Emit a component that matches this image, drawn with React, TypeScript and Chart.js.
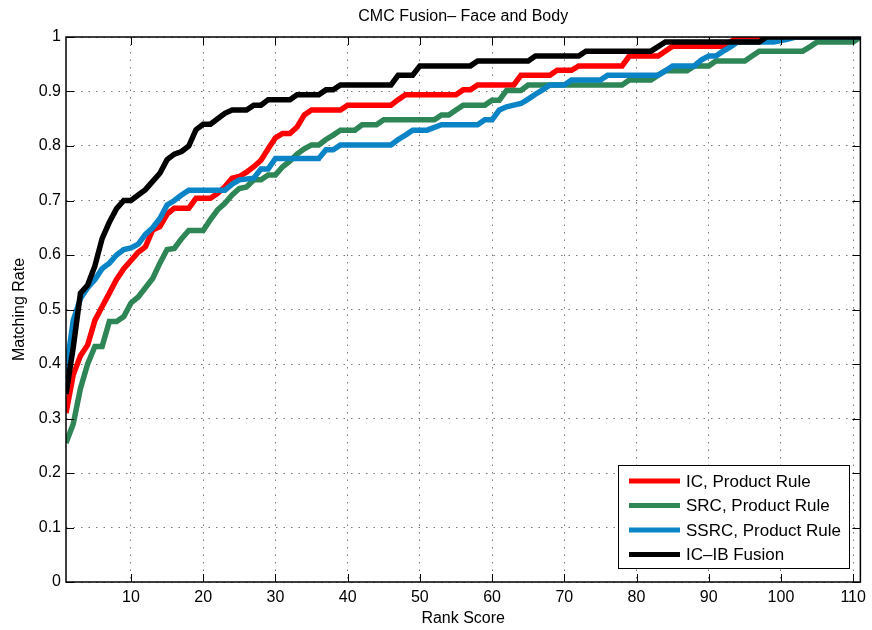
import { useEffect, useRef } from 'react';
import { Chart, registerables } from 'chart.js';

Chart.register(...registerables);

// Axis ticks
const rankTicks = [10, 20, 30, 40, 50, 60, 70, 80, 90, 100, 110];
const rateTicks = [0, 0.1, 0.2, 0.3, 0.4, 0.5, 0.6, 0.7, 0.8, 0.9, 1];

// IC, Product Rule
const icRanks = [1, 2, 3, 4, 5, 6, 7, 8, 9, 10, 11, 12, 13, 14, 15, 16, 18, 19, 21, 22, 23, 24, 25, 26, 27, 28, 29, 30, 31, 32, 33, 34, 35, 39, 40, 46, 47, 48, 55, 56, 57, 58, 63, 64, 68, 69, 71, 72, 78, 79, 83, 85, 92, 93, 94, 111];
const icRates = [0.31, 0.38, 0.415, 0.435, 0.48, 0.505, 0.53, 0.555, 0.575, 0.59, 0.605, 0.615, 0.646, 0.652, 0.675, 0.686, 0.686, 0.704, 0.704, 0.713, 0.725, 0.741, 0.744, 0.752, 0.762, 0.774, 0.795, 0.815, 0.823, 0.823, 0.835, 0.857, 0.866, 0.866, 0.875, 0.875, 0.885, 0.894, 0.894, 0.903, 0.903, 0.912, 0.912, 0.93, 0.93, 0.939, 0.939, 0.947, 0.947, 0.965, 0.965, 0.983, 0.983, 0.991, 1, 1];

// SRC, Product Rule
const srcRanks = [1, 2, 3, 4, 5, 6, 7, 8, 9, 10, 11, 12, 13, 14, 15, 16, 17, 18, 20, 21, 22, 23, 24, 25, 26, 27, 28, 29, 30, 31, 32, 33, 34, 35, 36, 37, 38, 39, 41, 42, 44, 45, 52, 53, 54, 55, 56, 59, 60, 61, 62, 64, 65, 78, 79, 82, 83, 84, 87, 88, 90, 91, 95, 96, 97, 103, 104, 105, 110, 111];
const srcRates = [0.255, 0.29, 0.355, 0.4, 0.432, 0.432, 0.478, 0.478, 0.487, 0.512, 0.523, 0.54, 0.557, 0.585, 0.61, 0.612, 0.63, 0.645, 0.645, 0.665, 0.683, 0.695, 0.71, 0.722, 0.725, 0.738, 0.738, 0.747, 0.747, 0.762, 0.772, 0.785, 0.795, 0.802, 0.802, 0.812, 0.82, 0.829, 0.829, 0.839, 0.839, 0.848, 0.848, 0.857, 0.857, 0.866, 0.875, 0.875, 0.884, 0.884, 0.902, 0.902, 0.912, 0.912, 0.921, 0.921, 0.93, 0.938, 0.938, 0.947, 0.947, 0.956, 0.956, 0.965, 0.974, 0.974, 0.982, 0.991, 0.991, 1];

// SSRC, Product Rule
const ssrcRanks = [1, 2, 3, 4, 5, 6, 7, 8, 9, 10, 11, 12, 13, 14, 15, 16, 17, 18, 23, 24, 25, 27, 28, 29, 30, 36, 37, 38, 39, 46, 47, 48, 49, 51, 53, 58, 59, 60, 61, 62, 63, 64, 65, 66, 67, 68, 70, 71, 75, 76, 83, 84, 85, 88, 89, 90, 91, 92, 93, 94, 99, 101, 102, 111];
const ssrcRates = [0.385, 0.48, 0.52, 0.54, 0.555, 0.575, 0.585, 0.6, 0.61, 0.613, 0.62, 0.638, 0.65, 0.667, 0.692, 0.7, 0.71, 0.719, 0.719, 0.73, 0.738, 0.741, 0.758, 0.758, 0.777, 0.777, 0.793, 0.793, 0.802, 0.802, 0.812, 0.82, 0.829, 0.829, 0.839, 0.839, 0.848, 0.848, 0.866, 0.872, 0.875, 0.878, 0.886, 0.895, 0.903, 0.912, 0.912, 0.921, 0.921, 0.93, 0.93, 0.938, 0.947, 0.947, 0.958, 0.965, 0.965, 0.974, 0.982, 0.991, 0.991, 0.996, 1, 1];

// IC-IB Fusion
const fusionRanks = [1, 2, 3, 4, 5, 6, 7, 8, 9, 10, 11, 12, 13, 14, 15, 16, 17, 18, 19, 20, 21, 22, 23, 24, 26, 27, 28, 29, 32, 33, 36, 37, 38, 39, 46, 47, 49, 50, 57, 58, 65, 66, 72, 73, 82, 84, 97, 98, 111];
const fusionRates = [0.345, 0.43, 0.53, 0.545, 0.58, 0.63, 0.66, 0.685, 0.7, 0.7, 0.71, 0.72, 0.735, 0.75, 0.775, 0.785, 0.79, 0.8, 0.83, 0.84, 0.84, 0.85, 0.86, 0.866, 0.866, 0.875, 0.875, 0.885, 0.885, 0.894, 0.894, 0.903, 0.903, 0.912, 0.912, 0.93, 0.93, 0.947, 0.947, 0.956, 0.956, 0.965, 0.965, 0.974, 0.974, 0.991, 0.991, 1, 1];

const seriesNames = ['IC, Product Rule', 'SRC, Product Rule', 'SSRC, Product Rule', 'IC\u2013IB Fusion'];
const seriesColors = ['#ff0000', '#2e8555', '#0a84c6', '#000000'];

const FONT = '"Liberation Sans", Arial, Helvetica, sans-serif';

const toPoints = (xs: number[], ys: number[]) => xs.map((x, i) => ({ x, y: ys[i] }));

// Draws the boxed frame with inward ticks, the title and the legend panel
const framePlugin = {
  id: 'frameAndLegend',
  afterDraw(chart: any) {
    const { ctx, chartArea } = chart;
    const { left, right, top, bottom } = chartArea;
    const xs = chart.scales.x;
    const ys = chart.scales.y;
    const tickLen = 8;
    ctx.save();
    ctx.strokeStyle = '#000';
    ctx.lineWidth = 1;
    ctx.beginPath();
    for (const t of rankTicks) {
      const px = Math.round(xs.getPixelForValue(t)) + 0.5;
      ctx.moveTo(px, bottom);
      ctx.lineTo(px, bottom - tickLen);
      ctx.moveTo(px, top);
      ctx.lineTo(px, top + tickLen);
    }
    for (const t of rateTicks) {
      const py = Math.round(ys.getPixelForValue(t)) + 0.5;
      ctx.moveTo(left, py);
      ctx.lineTo(left + tickLen, py);
      ctx.moveTo(right, py);
      ctx.lineTo(right - tickLen, py);
    }
    ctx.stroke();
    ctx.lineWidth = 1.5;
    ctx.strokeRect(left, top, right - left, bottom - top);

    // title
    ctx.fillStyle = '#000';
    ctx.font = `16px ${FONT}`;
    ctx.textAlign = 'center';
    ctx.textBaseline = 'middle';
    ctx.fillText('CMC Fusion\u2013 Face and Body', (left + right) / 2, 17);

    // legend
    const lx = 618, ly = 465, lw = 231, lh = 103;
    ctx.fillStyle = '#fff';
    ctx.fillRect(lx, ly, lw, lh);
    ctx.lineWidth = 1;
    ctx.strokeStyle = '#000';
    ctx.strokeRect(lx + 0.5, ly + 0.5, lw, lh);
    ctx.font = `17px ${FONT}`;
    ctx.textAlign = 'left';
    chart.data.datasets.forEach((ds: any, i: number) => {
      const rowY = ly + 16 + i * 24.5;
      ctx.strokeStyle = ds.borderColor;
      ctx.lineWidth = 5;
      ctx.beginPath();
      ctx.moveTo(lx + 11, rowY);
      ctx.lineTo(lx + 62, rowY);
      ctx.stroke();
      ctx.fillStyle = '#000';
      ctx.fillText(ds.label, lx + 68, rowY + 1);
    });
    ctx.restore();
  },
};

export default function App() {
  const canvasRef = useRef<HTMLCanvasElement | null>(null);

  useEffect(() => {
    const canvas = canvasRef.current;
    if (!canvas) return;
    const rankData = [icRanks, srcRanks, ssrcRanks, fusionRanks];
    const rateData = [icRates, srcRates, ssrcRates, fusionRates];
    const chart = new Chart(canvas, {
      type: 'line',
      data: {
        datasets: seriesNames.map((name, i) => ({
          label: name,
          data: toPoints(rankData[i], rateData[i]),
          borderColor: seriesColors[i],
          backgroundColor: seriesColors[i],
          borderWidth: 5.5,
          pointRadius: 0,
          tension: 0,
          fill: false,
          order: 4 - i,
        })),
      },
      options: {
        responsive: false,
        animation: false,
        events: [],
        layout: { padding: { top: 37, right: 9, left: 0, bottom: 0 } },
        plugins: {
          legend: { display: false },
          title: { display: false },
          tooltip: { enabled: false },
        },
        scales: {
          x: {
            type: 'linear',
            min: 1,
            max: 111,
            afterFit: (s: any) => {
              s.height = 48;
            },
            afterBuildTicks: (s: any) => {
              s.ticks = rankTicks.map((v) => ({ value: v }));
            },
            ticks: {
              color: '#000',
              font: { family: FONT, size: 16 },
              padding: 6,
              maxRotation: 0,
              autoSkip: false,
            },
            grid: { color: '#777', lineWidth: 1, drawTicks: false },
            border: { display: false, dash: [1.5, 6] },
            title: {
              display: true,
              text: 'Rank Score',
              color: '#000',
              font: { family: FONT, size: 16 },
              padding: { top: 0, bottom: 2 },
            },
          },
          y: {
            type: 'linear',
            min: 0,
            max: 1,
            afterFit: (s: any) => {
              s.width = 66;
            },
            afterBuildTicks: (s: any) => {
              s.ticks = rateTicks.map((v) => ({ value: v }));
            },
            ticks: {
              color: '#000',
              font: { family: FONT, size: 16 },
              padding: 5,
              autoSkip: false,
              callback: (v: any) => String(Number(Number(v).toFixed(1))),
            },
            grid: { color: '#777', lineWidth: 1, drawTicks: false },
            border: { display: false, dash: [1.5, 6] },
            title: {
              display: true,
              text: 'Matching Rate',
              color: '#000',
              font: { family: FONT, size: 16 },
              padding: { top: 10, bottom: 0 },
            },
          },
        },
      },
      plugins: [framePlugin],
    });
    return () => chart.destroy();
  }, []);

  return (
    <div style={{ position: 'absolute', left: 0, top: 0, width: 872, height: 630, background: '#fff' }}>
      <canvas ref={canvasRef} width={872} height={630} />
    </div>
  );
}
